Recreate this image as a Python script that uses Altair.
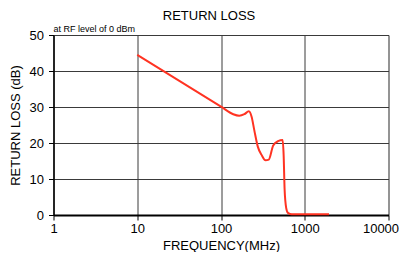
import altair as alt
import pandas as pd

freq_mhz = [10, 100, 140, 165, 190, 215, 232, 250, 275, 305, 340, 372, 420, 480, 545, 560, 575, 600, 630, 700, 1000, 1950]
return_loss_db = [44.5, 30.1, 28.0, 27.6, 28.0, 28.8, 27.3, 23.5, 19.0, 16.7, 15.2, 15.4, 19.3, 20.5, 20.8, 16.5, 7.0, 2.0, 0.6, 0.2, 0.2, 0.2]
x_ticks = [1, 10, 100, 1000, 10000]
y_ticks = [0, 10, 20, 30, 40, 50]
note = ["at RF level of 0 dBm"]
chart_title = ["RETURN LOSS"]

df = pd.DataFrame({"f": freq_mhz, "rl": return_loss_db})
FONT = "Liberation Sans"

line = alt.Chart(df).mark_line(color="#ff3322", strokeWidth=2, interpolate="monotone").encode(
    x=alt.X("f:Q", scale=alt.Scale(type="log", domain=[1, 10000]),
            axis=alt.Axis(values=x_ticks, title="FREQUENCY(MHz)", format="d",
                          grid=True, gridColor="#3a3a3a", gridWidth=1,
                          domainColor="black", domainWidth=2,
                          tickColor="black", tickSize=5, tickWidth=1,
                          labelFont=FONT, labelFontSize=13, labelColor="black", labelPadding=2,
                          labelOffset=alt.condition("datum.value == 10000", alt.value(-8), alt.value(0)),
                          titleFont=FONT, titleFontSize=13, titleFontWeight="normal",
                          titleColor="black", titlePadding=4, labelFlush=False)),
    y=alt.Y("rl:Q", scale=alt.Scale(domain=[0, 50]),
            axis=alt.Axis(values=y_ticks, title="RETURN LOSS (dB)",
                          grid=True, gridColor="#3a3a3a", gridWidth=1,
                          domainColor="black", domainWidth=1.5,
                          tickColor="black", tickSize=5, tickWidth=1,
                          labelFont=FONT, labelFontSize=13, labelColor="black", labelPadding=5,
                          titleFont=FONT, titleFontSize=13, titleFontWeight="normal",
                          titleColor="black", titlePadding=7)),
)

text = alt.Chart(pd.DataFrame({"t": note})).mark_text(
    font=FONT, fontSize=9, align="left", baseline="alphabetic", color="black"
).encode(text="t:N", x=alt.value(0), y=alt.value(-3))

title_text = alt.Chart(pd.DataFrame({"t": chart_title})).mark_text(
    font=FONT, fontSize=13, align="center", baseline="alphabetic", color="black"
).encode(text="t:N", x=alt.value(155.5), y=alt.value(-15))

chart = alt.layer(line, text, title_text).properties(
    width=335, height=180,
    autosize=alt.AutoSizeParams(type="none"),
    padding={"left": 45.5, "top": 27, "right": 10, "bottom": 37},
).configure_view(stroke="black", strokeWidth=1).configure(background="white")

chart.save("out.html", embed_options={"renderer": "svg", "actions": False})
